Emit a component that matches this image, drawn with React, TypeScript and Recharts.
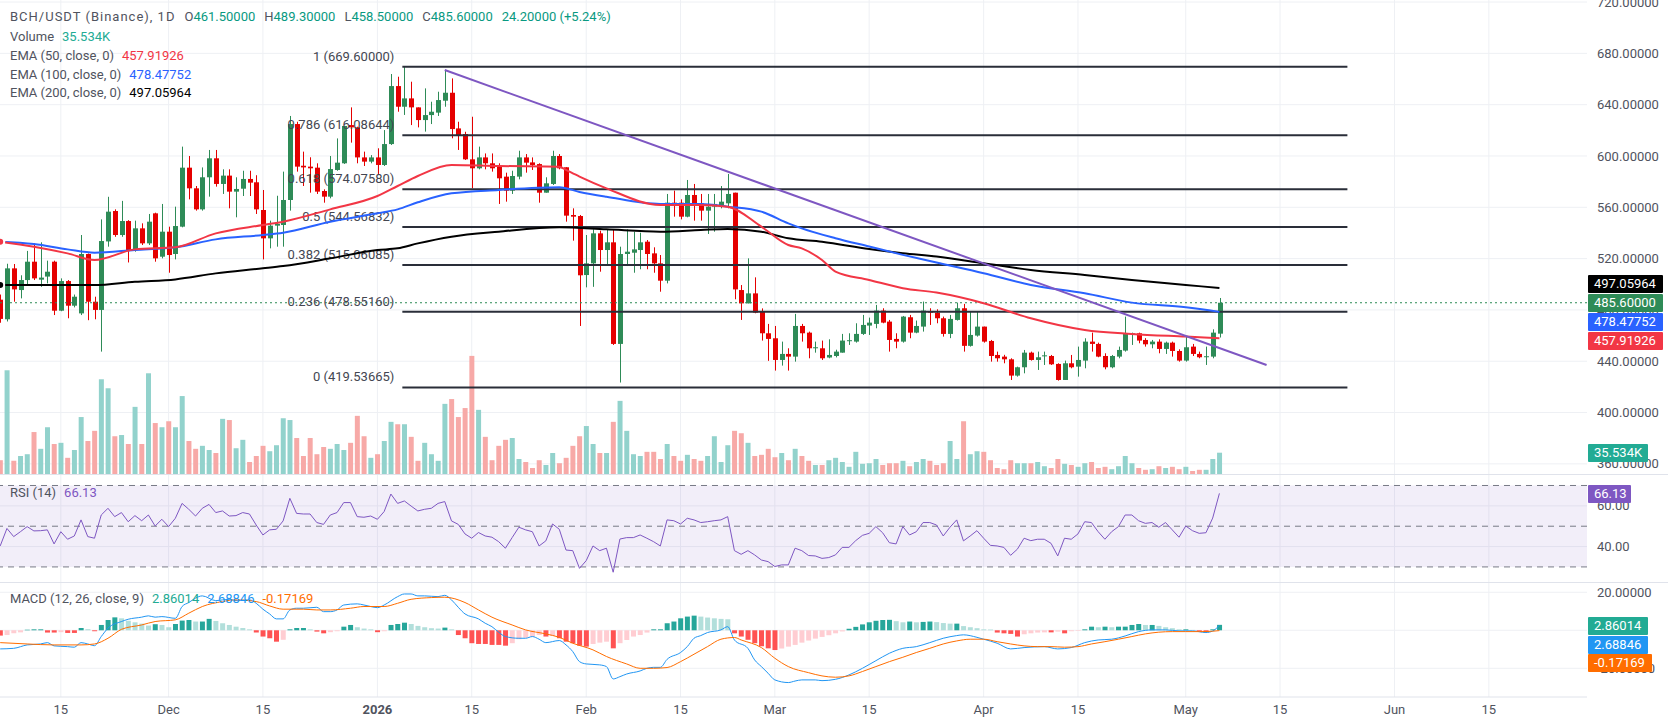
import React from "react";
import {
  ComposedChart,
  Bar,
  Line,
  XAxis,
  YAxis,
  CartesianGrid,
  ReferenceLine,
  ReferenceArea,
  Cell,
} from "recharts";

// candle 0 = 6 Nov 2025, day numbers are counted from 1 Jan 2026
const FIRST_DAY = -56;
const X_DOMAIN: [number, number] = [-56.03, 179.57];

const opens = [
  488, 472.7, 512.4, 495.5, 503.3, 517.6, 503.6, 506, 517.6, 479.4,
  502.5, 483.3, 477.3, 523.6, 486.4, 480, 533.4, 557.1, 538.4, 549.3,
  526.7, 543.6, 531.9, 555.3, 521.5, 541, 523.6, 544.9, 590.9, 574.8,
  558.4, 583.4, 598.2, 578.2, 584.7, 572.2, 574.5, 582.1, 579.5, 557.9,
  535.8, 545.7, 546.2, 565.7, 624.9, 592.4, 591.7, 590.9, 572.7, 568.3,
  589.1, 594.3, 624.1, 622.3, 598.9, 595.6, 598.9, 593, 609.3, 654.5,
  638.4, 644.9, 637.9, 628, 631.9, 633.8, 643.1, 649.3, 621.5, 617.1,
  597.4, 590.4, 598.9, 594.3, 591.7, 583.9, 573, 583.9, 598.9, 595,
  593.7, 571.4, 578.2, 600, 591.2, 554, 553.2, 507.2, 516.3, 539.7,
  526.7, 532.7, 453.5, 523.6, 524.6, 526.7, 533.2, 524.1, 516.3, 502.8,
  563.6, 563.6, 552.7, 569.6, 563.1, 557.4, 560.5, 561.8, 563.1, 571.4,
  495.5, 485.1, 492.9, 478.7, 461.8, 457.9, 441, 445.7, 443.6, 467.5,
  462.3, 450.1, 450.1, 442.9, 444.1, 446.7, 455.8, 455.3, 461.3, 467.8,
  469.1, 479.5, 470.9, 457.4, 455.3, 474.3, 462.3, 467, 478.7, 477.9,
  473.5, 461.3, 472.2, 481.3, 452, 460, 467, 455.8, 444.9, 443.6,
  441.5, 428.8, 435.3, 446.7, 441, 444.1, 444.1, 437.9, 425.4, 438.4,
  435.8, 440.5, 455.3, 453.5, 444.1, 435.3, 443.6, 448.3, 461.3, 461.8,
  456.6, 453.2, 455.3, 449.6, 454.5, 448, 440.5, 451.4, 445.7, 443.4,
  443.6, 461.5,
];

const highs = [
  492, 516, 515.8, 507, 526, 531.9, 532.7, 518.4, 518.4, 504.6,
  503.3, 492, 538.4, 524, 490.3, 550.6, 568.2, 558.4, 565, 550,
  549.6, 547.5, 554.8, 555.8, 562.6, 544.9, 560.5, 607.3, 600, 576.6,
  591.1, 604.7, 604.7, 589.6, 589.6, 583.4, 588.5, 588.5, 585, 573.5,
  549.6, 569, 587.8, 631.2, 626.7, 603.4, 599, 594.3, 574, 600,
  613.7, 623.4, 637.9, 622.8, 603.4, 600.7, 606, 620.2, 663.9, 661.8,
  669.6, 657.9, 637.9, 652.7, 642.3, 650.1, 667, 660.5, 626.7, 618.9,
  630.6, 607.3, 602, 602, 594.3, 587, 588.5, 604.1, 601.5, 598.9,
  594.3, 583.4, 604.1, 601.5, 591.2, 559.2, 554, 538.4, 542.8, 541.8,
  542.3, 542.3, 529.3, 542.8, 541, 540.2, 534.5, 528.8, 522.8, 570.4,
  573, 566.2, 581.3, 578.2, 570.4, 570.4, 570.4, 576.6, 586, 571.4,
  499.4, 520.2, 505.4, 481.2, 469.1, 467.5, 455.3, 450.1, 476.9, 469.1,
  463.1, 455.3, 456.1, 457.1, 449, 461.3, 461.8, 469.6, 476.1, 474,
  483.9, 481.3, 472.2, 461.8, 475.3, 476.1, 471.7, 486.5, 481.3, 480.5,
  474.8, 476.1, 485.7, 484.7, 478.7, 478.7, 467, 456.6, 447.5, 445,
  442.3, 435.8, 448.8, 447.5, 447.5, 447.5, 444.9, 438.4, 440.5, 444.9,
  451.4, 457.9, 462.3, 454.5, 446.2, 444.9, 451.4, 474.8, 462.3, 462.3,
  458, 456.6, 457.1, 455.3, 455.3, 449.3, 459.2, 453.5, 447.5, 451.4,
  464.9, 489.3,
];

const lows = [
  470, 471, 486.4, 489, 499, 503.3, 498, 500.7, 476, 479,
  473.5, 482, 476, 472, 472.7, 447.5, 529.3, 537, 537, 517,
  525.4, 530.6, 530.6, 517.6, 520.2, 509, 519.4, 544.4, 566.2, 557.4,
  557.4, 568.3, 576.1, 570.4, 559.2, 552.2, 568.8, 568.8, 554.8, 519.4,
  528, 529.3, 529.3, 557.4, 587.8, 576.6, 571.4, 570.4, 563.6, 567,
  588.5, 593.8, 610.4, 594.3, 592.2, 594.3, 586, 592.2, 608.6, 634.5,
  632, 624.1, 622.3, 619, 624.9, 631.2, 638.4, 613.8, 604.7, 596.9,
  574.8, 589.6, 589.6, 587.8, 562.6, 564.4, 570.4, 581.8, 587, 589.1,
  563.6, 571.4, 577.4, 589.6, 548.8, 534, 467.5, 497.6, 498, 509.8,
  515, 452.7, 423.4, 514.2, 509, 511.7, 511.7, 509, 494.2, 500.7,
  552.7, 550.6, 552.2, 549.6, 549.6, 539.2, 541, 559.2, 559.2, 488.3,
  472.2, 485.1, 477.4, 456.1, 440.3, 432.7, 436.6, 432.7, 439.7, 455.3,
  442.3, 446.7, 441, 442.3, 443, 446.7, 452.7, 454.5, 460.5, 460.5,
  465.7, 469.6, 447.5, 450.1, 454.5, 457.9, 461.8, 463.1, 468.3, 469.6,
  459.2, 458, 471.7, 447.5, 451.4, 459.2, 454.5, 439.7, 439.7, 438.4,
  425.4, 428, 430.6, 440.5, 433.2, 437.1, 437.1, 424.9, 425.4, 434.5,
  428, 434.5, 447.5, 443.1, 433.7, 434.5, 442.3, 447.5, 452.7, 454,
  451.4, 450.1, 446.2, 445.7, 443.6, 439.7, 439.7, 444.1, 442.3, 437.1,
  442.3, 458.5,
];

const closes = [
  473, 512.4, 496, 503.3, 517.6, 504.6, 505.2, 509.8, 479.4, 502.5,
  483.3, 490.3, 523.6, 486.4, 480, 533.7, 556.6, 538.4, 549.3, 526.7,
  543.6, 531.9, 548.8, 520.2, 541, 522.8, 545.4, 590.9, 574.8, 558.4,
  583.4, 598.2, 578.2, 584.7, 572.2, 574.3, 582.1, 579.2, 558.4, 535.8,
  545.7, 547, 565.7, 624.9, 591.7, 591.1, 590.4, 572.2, 568.3, 589.8,
  594.8, 623.4, 622.3, 598.9, 595.6, 598.9, 593, 609.3, 654.5, 638.4,
  644.9, 637.9, 628, 631.9, 634.5, 643.6, 649.3, 621, 616.3, 597.4,
  590.4, 598.9, 594.3, 590.4, 582.6, 573, 584.4, 598.9, 594.8, 593,
  571.4, 578.7, 600, 590.4, 553.5, 552.7, 507, 516.3, 539.7, 526.7,
  532.7, 453.5, 523.6, 525.4, 527.2, 532.7, 523.6, 516.3, 502.8, 563.6,
  561, 552.7, 569.6, 562.6, 557.4, 560.5, 562.6, 564.4, 570.4, 496,
  485.1, 492.9, 477.9, 461.8, 457.4, 441, 445.7, 443.6, 467.5, 461.8,
  450.1, 450.9, 442.3, 444.9, 447.5, 456.1, 456.4, 461.3, 468.3, 470.1,
  479.5, 470.1, 456.6, 455.3, 474.8, 462.3, 467.5, 479.5, 477.9, 473.5,
  461.3, 473, 481.3, 452, 460.5, 467, 455.3, 444.1, 442.3, 441.5,
  428.8, 435.3, 446.7, 441, 443.1, 444.6, 437.6, 425.4, 438.4, 435.3,
  441, 455.3, 453.5, 443.6, 435.3, 444.1, 448.8, 461.3, 461.8, 456.1,
  453.2, 455.3, 449.6, 454.5, 448, 440.5, 450.9, 445.7, 443.1, 443.9,
  462.3, 485.6,
];

// volume in thousands
const volumes = [
  23, 173, 22, 30, 33, 70, 42, 78, 50, 52,
  27, 40, 95, 55, 72, 158, 143, 63, 65, 50,
  112, 50, 168, 85, 78, 88, 78, 130, 55, 42,
  47, 40, 35, 92, 90, 43, 57, 20, 30, 47,
  38, 48, 93, 90, 60, 30, 60, 33, 45, 42,
  50, 40, 52, 97, 63, 27, 33, 55, 87, 83,
  83, 62, 22, 52, 33, 22, 117, 125, 95, 110,
  197, 107, 62, 23, 47, 57, 60, 25, 20, 10,
  23, 15, 35, 18, 27, 47, 63, 80, 50, 35,
  35, 87, 122, 72, 33, 30, 37, 37, 25, 50,
  30, 22, 32, 25, 22, 30, 63, 20, 48, 72,
  68, 52, 30, 32, 42, 28, 35, 23, 42, 30,
  22, 15, 15, 23, 27, 20, 12, 37, 17, 18,
  25, 15, 18, 18, 22, 13, 20, 25, 22, 15,
  18, 55, 25, 88, 33, 38, 37, 23, 10, 8,
  23, 18, 18, 18, 20, 13, 10, 25, 17, 15,
  12, 18, 20, 10, 12, 8, 13, 30, 18, 10,
  7, 8, 13, 10, 12, 8, 12, 5, 7, 7,
  25, 35.534,
];

const rsi = [
  40.3, 48.9, 44.9, 47.3, 49.8, 47.7, 47.8, 48.2, 41.3, 47.3,
  43.6, 45.2, 53.1, 44.9, 44.1, 55.5, 58.8, 54.7, 56.7, 52.2,
  55.2, 52.7, 55.5, 50.1, 53.4, 49.8, 53.9, 61.2, 58.3, 55,
  58.8, 60.7, 56.7, 57.5, 55, 55.2, 56.7, 56, 50.6, 45.7,
  48.2, 48.5, 52.6, 63.7, 56.3, 56, 56, 51.8, 50.9, 55.5,
  56.7, 61.6, 61.6, 54.7, 54.4, 55, 53.4, 57.2, 65.8, 61.2,
  62.4, 59.9, 57.5, 58.3, 58.8, 61.2, 62.1, 52.6, 50.9, 46.2,
  44.1, 46.9, 45.2, 44.6, 42.4, 39.2, 44.4, 49.5, 48.2, 47.3,
  40.3, 42.8, 51.1, 48.5, 38.3, 38, 29.3, 33.1, 40.3, 38,
  39.2, 27.4, 43.7, 44.4, 44.4, 45.7, 44.1, 42.4, 40.3, 53.1,
  52.7, 51.1, 53.9, 53.1, 51.8, 52.2, 52.7, 53.1, 54.7, 38,
  36.2, 38, 35.9, 33.4, 32.6, 30.2, 31, 31, 39.2, 38,
  35.6, 35.4, 34.2, 34.6, 35.9, 39.6, 39.6, 42.9, 45.5, 46.5,
  49.8, 46.8, 41.9, 41.3, 49.8, 45.7, 47.3, 51.8, 51.8, 50.6,
  45.2, 49.5, 53.1, 42.8, 45.2, 47.8, 44.1, 40.6, 40.3, 39.6,
  35.7, 38.7, 44.1, 42.9, 43.6, 43.6, 41.6, 35.4, 44.1, 43.6,
  46.2, 52.2, 51.8, 47.3, 43.6, 47.3, 49.8, 55.5, 55.5, 52.7,
  51.4, 51.8, 49.5, 51.8, 48.2, 44.6, 50.1, 47.8, 46.5, 46.8,
  54, 66.13,
];

const macdHist = [
  -2.8, -2.5, -1.6, -1.1, 0.3, 0.5, 0.5, -1.2, -1.2, -1,
  -1.4, -1.4, 1.2, 0.6, -0.5, 2.8, 5.4, 6.8, 6.3, 5,
  4.2, 3.5, 2.5, 3.2, 2.8, 1.6, 3.3, 5.1, 5.4, 4.6,
  4.6, 6, 4.9, 3.7, 2.8, 1.9, 1.2, 0.5, -1.2, -3.3,
  -4.2, -6, -5, 0.5, 1.2, 1.2, 0.5, -0.7, -1.6, -1,
  -0.5, 1.9, 2.8, 1.6, 0.9, 0.5, -1, -0.5, 2.8, 3.3,
  4, 3.3, 2.3, 1.6, 1.1, 0.9, 1.4, 0.5, -2.5, -4.2,
  -6.8, -7.2, -7.2, -7.7, -7.7, -8.1, -6.8, -4.7, -3.9, -3.3,
  -2.5, -3.3, -3, -4.2, -6, -6.8, -8.1, -8.6, -7.2, -6.5,
  -6, -9.5, -6.8, -5.1, -3.3, -2.5, -1.2, 0.5, 0.5, 3.7,
  4.6, 6.3, 7.2, 7.7, 7.2, 6.7, 6.3, 6, 5.8, -1.6,
  -3.3, -5, -6.8, -8.4, -9.5, -10.4, -9.6, -8.6, -7.7, -6.5,
  -5.4, -4.4, -3.5, -2.6, -1.6, -0.6, 0.8, 1.8, 3.1, 4.2,
  5, 5.4, 5.5, 4.8, 4.2, 4.6, 4.2, 4.4, 4.6, 4.3,
  3.8, 3.5, 3.5, 2.2, 1.6, 1.1, 0.5, 0.4, -1.2, -1.6,
  -1.9, -3.3, -2.1, -1.6, -1.2, -1.1, -1.1, -0.7, -1.6, -0.5,
  -0.3, 0.5, 1.9, 1.6, 1.9, 1.6, 1.9, 1.9, 2.8, 3.3,
  2.8, 2.8, 2.3, 1.6, 1.1, 0.5, 0.5, 0.2, -0.7, -1.1,
  0.5, 2.86014,
];

// smooth lines read at [candle index, value]
const ema50Points: [number, number][] = [
  [0, 533.2], [5, 529.3], [10, 524.1], [14, 518.9], [20, 527.2], [26, 528.8],
  [32, 539.7], [39, 546.2], [42, 548.8], [49, 558.4], [56, 568.8], [59, 576.6],
  [62, 584.4], [67, 593], [74, 592.2], [83, 591.7], [84, 589.1], [86, 583.9],
  [90, 574.8], [98, 561.8], [104, 561.8], [108, 560.5], [113, 544.9], [117, 530.6],
  [119, 528], [122, 518.9], [124, 509.9], [129, 503.4], [134, 496.9], [139, 493.5],
  [146, 485.2], [153, 473.5], [161, 464.4], [168, 461.3], [176, 459.2], [181, 457.92],
];

const ema100Points: [number, number][] = [
  [0, 533.2], [5, 531.4], [10, 527.2], [14, 524.6], [20, 526.7], [26, 528.8],
  [32, 535], [39, 538.4], [42, 540.2], [49, 548.8], [56, 555.3], [59, 558.4],
  [62, 563.9], [67, 570.9], [74, 573.5], [83, 575.6], [86, 572], [90, 568.3],
  [98, 562.6], [104, 562.6], [108, 560.5], [113, 556.6], [117, 547.5], [119, 543.6],
  [124, 535.9], [129, 529.4], [134, 522.9], [139, 516.9], [146, 508.6], [153, 499.5],
  [161, 493], [168, 485.7], [176, 482.1], [181, 478.48],
];

const ema200Points: [number, number][] = [
  [0, 499.4], [14, 499.4], [20, 502], [26, 503.8], [32, 508.5], [39, 512.4],
  [42, 514.2], [49, 520.2], [56, 526.7], [59, 528], [62, 531.9], [67, 537.1],
  [74, 541], [83, 544.4], [90, 542.8], [98, 541], [104, 542.3], [108, 543.1],
  [113, 541], [117, 535.8], [122, 533.2], [129, 527.5], [134, 524.2], [139, 521.6],
  [146, 516.4], [153, 511.2], [161, 507.3], [168, 503.4], [176, 499.5], [181, 497.06],
];

const macdPoints: [number, number][] = [
  [0, -9.8], [2, -9.5], [4, -7.7], [6, -7.2], [7, -6.5], [8, -8.2], [10, -8.6],
  [11, -8.9], [12, -6.5], [13, -7.2], [14, -8.1], [15, -3.3], [16, 1.1], [18, 4.6],
  [19, 5.8], [21, 6.9], [22, 7.6], [23, 6.9], [24, 7.2], [26, 6.3], [27, 12.5],
  [28, 14.6], [29, 16.9], [30, 18.1], [32, 15.6], [33, 16], [34, 16.3], [35, 15.6],
  [37, 16], [38, 14.2], [39, 11.1], [40, 8.6], [41, 6], [42, 6], [43, 10.7],
  [44, 11.6], [45, 11.6], [47, 12.1], [48, 9.8], [49, 9.8], [50, 10.7], [51, 13.3],
  [53, 13.9], [54, 13.3], [55, 12.5], [56, 11.9], [57, 13.3], [59, 17.7], [60, 19.1],
  [61, 19.1], [62, 18.1], [63, 18.1], [65, 17.7], [66, 18.4], [67, 16], [68, 12.1],
  [69, 8.6], [71, 6], [72, 3.7], [73, 1.9], [74, -1], [75, -3.3], [77, -4.2],
  [78, -4.2], [79, -3.3], [80, -4.7], [81, -6.5], [83, -5.4], [84, -7.7], [85, -11.2],
  [86, -16.5], [87, -17.7], [89, -18.2], [90, -19.1], [91, -25.6], [92, -24.4],
  [93, -23], [95, -21.4], [96, -20], [97, -19.5], [98, -19.5], [99, -15.3],
  [101, -11.7], [102, -8.6], [103, -4.2], [104, -2.8], [105, -1.2], [107, 0.2],
  [108, 1.9], [109, -5.1], [111, -9.5], [112, -15.6], [113, -19.1], [114, -22.6],
  [115, -26.1], [117, -27.5], [118, -26.7], [119, -26.1], [121, -26.1], [122, -26.5],
  [124, -25.8], [126, -23.5], [128, -20], [130, -16], [132, -12.1], [134, -9.5],
  [136, -8.6], [138, -6.5], [140, -4.2], [142, -2.8], [143, -2.4], [145, -3.7],
  [146, -4.7], [148, -6.8], [150, -9.8], [152, -9.1], [155, -8.6], [157, -9.8],
  [159, -9.1], [161, -6.5], [163, -5.1], [165, -4.7], [167, -3], [169, -0.7],
  [171, 0.2], [173, 0.2], [175, -0.3], [177, -0.3], [179, -1.2], [180, -0.4],
  [181, 2.68846],
];

const signalPoints: [number, number][] = [
  [0, -6.5], [4, -7.2], [8, -7.7], [12, -7.7], [14, -7.2], [16, -4.2], [18, 0.5],
  [21, 2.8], [23, 4.6], [26, 5.5], [28, 9], [30, 12.5], [33, 15.1], [35, 16],
  [38, 15.1], [40, 12.8], [42, 11.1], [45, 11.1], [47, 10.7], [49, 10.7], [52, 11.6],
  [54, 12.5], [57, 12.5], [59, 14.2], [61, 16.3], [64, 17.2], [66, 17.4], [69, 14.6],
  [71, 10.7], [73, 6.9], [76, 2.8], [78, 0.2], [81, -1.9], [83, -3.7], [85, -6.8],
  [88, -10.3], [90, -13.8], [93, -17.7], [95, -20], [97, -20], [99, -19.6],
  [101, -16.5], [103, -12.6], [105, -8.6], [107, -4.7], [109, -3.8], [110, -5.1],
  [113, -9.1], [115, -14.7], [117, -19.1], [120, -22.3], [122, -24], [124, -24.7],
  [126, -24], [128, -21.7], [130, -19.1], [132, -16.5], [134, -14.2], [136, -11.7],
  [138, -9.5], [140, -7.2], [142, -5.6], [144, -4.7], [146, -4.7], [148, -6],
  [150, -7.2], [152, -8.2], [154, -8.6], [156, -8.6], [158, -8.9], [160, -8.6],
  [162, -7.2], [164, -6], [166, -4.7], [168, -3.3], [170, -1.9], [172, -1],
  [174, -0.7], [176, -0.7], [178, -0.7], [180, -0.5], [181, -0.17169],
];

const fibRatios = ["1", "0.786", "0.618", "0.5", "0.382", "0.236", "0"];
const fibPrices = [669.6, 616.08644, 574.0758, 544.56832, 515.06085, 478.5516, 419.53665];
const fibStartDay = 3.7;
const fibEndDay = 144;

// trend line anchors: [day, price]
const trendStart = { day: 10, price: 667 };
const trendEnd = { day: 132, price: 437.1 };

const lastPrice = 485.6;

const priceTicks = [720, 680, 640, 600, 560, 520, 480, 440, 400, 360];
const rsiTicks = [60, 40];
const macdTicks = [20, -20];
const dateTicks = [-47, -31, -17, 0, 14, 31, 45, 59, 73, 90, 104, 120, 134, 151, 165];
const dateLabels = ["15", "Dec", "15", "2026", "15", "Feb", "15", "Mar", "15", "Apr", "15", "May", "15", "Jun", "15"];

const UP = "#2e8b57";
const DOWN = "#e50000";
const VOL_UP = "#92d2cc";
const VOL_DOWN = "#f7a9a7";
const TEXT = "#50535e";
const GRID = "#eef0f4";
const FONT = "Roboto, 'Noto Sans', sans-serif";

const W = 1668;
const AXIS_W = 81;

const m50 = new Map(ema50Points);
const m100 = new Map(ema100Points);
const m200 = new Map(ema200Points);
const mMacd = new Map(macdPoints);
const mSignal = new Map(signalPoints);

const rows = opens.map((o, i) => ({
  d: FIRST_DAY + i,
  o,
  h: highs[i],
  l: lows[i],
  c: closes[i],
  hl: [lows[i], highs[i]],
  vol: volumes[i],
  ema50: m50.get(i) ?? null,
  ema100: m100.get(i) ?? null,
  ema200: m200.get(i) ?? null,
  rsi: rsi[i],
  hist: macdHist[i],
  macd: mMacd.get(i) ?? null,
  signal: mSignal.get(i) ?? null,
}));

const histColor = (i: number) => {
  const v = macdHist[i];
  const p = i > 0 ? macdHist[i - 1] : v;
  if (v >= 0) return v >= p ? "#26a69a" : "#b2dfdb";
  return v <= p ? "#ff5252" : "#ffcdd2";
};

const Candle = (props: any) => {
  const { x, y, width, height, payload } = props;
  if (!payload || x == null || y == null) return null;
  const { o, h, l, c } = payload;
  const top = height >= 0 ? y : y + height;
  const span = Math.abs(height);
  const at = (v: number) => (h === l ? top : top + ((h - v) / (h - l)) * span);
  const px = Math.round(x + width / 2);
  const color = c >= o ? UP : DOWN;
  const yo = at(o);
  const yc = at(c);
  return (
    <g>
      <line x1={px + 0.5} x2={px + 0.5} y1={top} y2={top + span} stroke={color} strokeWidth={1} />
      <rect x={px - 2} y={Math.min(yo, yc)} width={5} height={Math.max(1, Math.abs(yo - yc))} fill={color} />
    </g>
  );
};

const FibLabel = (text: string) => (props: any) => {
  const vb = props.viewBox || {};
  return (
    <text x={vb.x - 8} y={vb.y - 6} textAnchor="end" fontSize={13} fill="#434651">
      {text}
    </text>
  );
};

const DateTick = (props: any) => {
  const { x, y, payload } = props;
  const idx = dateTicks.indexOf(payload.value);
  const label = dateLabels[idx] ?? "";
  return (
    <text x={x} y={y} dy="0.71em" textAnchor="middle" fontSize={13} fill={TEXT} fontWeight={label === "2026" ? 700 : 400}>
      {label}
    </text>
  );
};

const Badge = ({ top, bg, text, width = 75 }: { top: number; bg: string; text: string; width?: number }) => (
  <div
    style={{
      position: "absolute",
      left: 1588,
      top,
      width,
      height: 18,
      background: bg,
      color: "#fff",
      fontSize: 13,
      lineHeight: "18px",
      paddingLeft: 6,
      boxSizing: "border-box",
      borderRadius: 1,
    }}
  >
    {text}
  </div>
);

const Seg = ({ children, color, gap = 0, spacing = 0 }: { children: React.ReactNode; color: string; gap?: number; spacing?: number }) => (
  <span style={{ color, marginLeft: gap, letterSpacing: spacing }}>{children}</span>
);

const Row = ({ top, left = 10, children }: { top: number; left?: number; children: React.ReactNode }) => (
  <div style={{ position: "absolute", left, top, fontSize: 13, lineHeight: "18px", whiteSpace: "nowrap" }}>
    {children}
  </div>
);

export default function App() {
  const valGreen = "#089981";
  return (
    <div
      style={{
        position: "absolute",
        left: 0,
        top: 0,
        width: W,
        height: 726,
        background: "#fff",
        overflow: "hidden",
        fontFamily: FONT,
      }}
    >
      {/* price pane */}
      <div style={{ position: "absolute", left: 0, top: 0 }}>
        <ComposedChart width={W} height={474} data={rows} margin={{ top: 0, right: 0, bottom: 0, left: 0 }}>
          <CartesianGrid stroke={GRID} horizontalValues={priceTicks} verticalValues={dateTicks} />
          <XAxis type="number" dataKey="d" domain={X_DOMAIN} allowDataOverflow hide />
          <XAxis xAxisId="v" type="number" dataKey="d" domain={X_DOMAIN} allowDataOverflow hide />
          <YAxis
            orientation="right"
            width={AXIS_W}
            domain={[352.1, 721.6]}
            allowDataOverflow
            ticks={priceTicks}
            interval={0}
            tickLine={false}
            axisLine={false}
            tickMargin={4}
            tick={{ fill: TEXT, fontSize: 13 }}
            tickFormatter={(v: number) => v.toFixed(5)}
          />
          <YAxis yAxisId="v" domain={[0, 790.6]} allowDataOverflow hide />
          <Bar xAxisId="v" yAxisId="v" dataKey="vol" barSize={5} isAnimationActive={false}>
            {rows.map((r, i) => (
              <Cell key={i} fill={r.c >= r.o ? VOL_UP : VOL_DOWN} />
            ))}
          </Bar>
          <ReferenceLine y={lastPrice} stroke={UP} strokeDasharray="2 3" strokeWidth={1} />
          {fibPrices.map((p, i) => (
            <ReferenceLine
              key={i}
              segment={[
                { x: fibStartDay, y: p },
                { x: fibEndDay, y: p },
              ]}
              stroke="#2a2e39"
              strokeWidth={2}
              label={FibLabel(`${fibRatios[i]} (${p.toFixed(5)})`)}
            />
          ))}
          <Bar dataKey="hl" barSize={5} isAnimationActive={false} shape={Candle} />
          <Line dataKey="ema200" type="monotone" stroke="#000000" strokeWidth={2} dot={false} connectNulls isAnimationActive={false} />
          <Line dataKey="ema100" type="monotone" stroke="#2962ff" strokeWidth={2} dot={false} connectNulls isAnimationActive={false} />
          <Line dataKey="ema50" type="monotone" stroke="#f23645" strokeWidth={2} dot={false} connectNulls isAnimationActive={false} />
          <ReferenceLine
            segment={[
              { x: trendStart.day, y: trendStart.price },
              { x: trendEnd.day, y: trendEnd.price },
            ]}
            stroke="#7e57c2"
            strokeWidth={2}
          />
        </ComposedChart>
      </div>

      {/* RSI pane */}
      <div style={{ position: "absolute", left: 0, top: 475 }}>
        <ComposedChart width={W} height={107} data={rows} margin={{ top: 0, right: 0, bottom: 0, left: 0 }}>
          <CartesianGrid stroke={GRID} horizontalValues={rsiTicks} verticalValues={dateTicks} />
          <XAxis type="number" dataKey="d" domain={X_DOMAIN} allowDataOverflow hide />
          <YAxis
            orientation="right"
            width={AXIS_W}
            domain={[22.6, 75.15]}
            allowDataOverflow
            ticks={rsiTicks}
            interval={0}
            tickLine={false}
            axisLine={false}
            tickMargin={4}
            tick={{ fill: TEXT, fontSize: 13 }}
            tickFormatter={(v: number) => v.toFixed(2)}
          />
          <ReferenceArea y1={30} y2={70} fill="#7e57c2" fillOpacity={0.1} stroke="none" />
          <ReferenceLine y={70} stroke="#787b86" strokeDasharray="6 5" />
          <ReferenceLine y={50} stroke="#787b86" strokeDasharray="6 5" />
          <ReferenceLine y={30} stroke="#787b86" strokeDasharray="6 5" />
          <Line dataKey="rsi" type="linear" stroke="#7e57c2" strokeWidth={1} dot={false} isAnimationActive={false} />
        </ComposedChart>
      </div>

      {/* MACD pane */}
      <div style={{ position: "absolute", left: 0, top: 582 }}>
        <ComposedChart width={W} height={144} data={rows} margin={{ top: 0, right: 0, bottom: 0, left: 0 }}>
          <CartesianGrid stroke={GRID} horizontalValues={[20, 0, -20]} verticalValues={dateTicks} />
          <XAxis
            type="number"
            dataKey="d"
            domain={X_DOMAIN}
            allowDataOverflow
            ticks={dateTicks}
            interval={0}
            height={29}
            tickLine={false}
            axisLine={{ stroke: "#e0e3eb" }}
            tick={DateTick}
          />
          <YAxis
            orientation="right"
            width={AXIS_W}
            domain={[-35.1, 25.4]}
            allowDataOverflow
            ticks={macdTicks}
            interval={0}
            tickLine={false}
            axisLine={false}
            tickMargin={4}
            tick={{ fill: TEXT, fontSize: 13 }}
            tickFormatter={(v: number) => v.toFixed(5)}
          />
          <Bar dataKey="hist" barSize={5} isAnimationActive={false}>
            {rows.map((_, i) => (
              <Cell key={i} fill={histColor(i)} />
            ))}
          </Bar>
          <Line dataKey="macd" type="monotone" stroke="#2196f3" strokeWidth={1} dot={false} connectNulls isAnimationActive={false} />
          <Line dataKey="signal" type="monotone" stroke="#ff6d00" strokeWidth={1} dot={false} connectNulls isAnimationActive={false} />
        </ComposedChart>
      </div>

      {/* pane separators */}
      <div style={{ position: "absolute", left: 0, top: 474, width: W, height: 1, background: "#e0e3eb" }} />
      <div style={{ position: "absolute", left: 0, top: 582, width: W, height: 1, background: "#e0e3eb" }} />

      {/* legends */}
      <Row top={8}>
        <Seg color={TEXT} spacing={1}>BCH/USDT (Binance), 1D</Seg>
        <Seg color={TEXT} gap={9}>O</Seg>
        <Seg color={valGreen}>461.50000</Seg>
        <Seg color={TEXT} gap={9}>H</Seg>
        <Seg color={valGreen}>489.30000</Seg>
        <Seg color={TEXT} gap={9}>L</Seg>
        <Seg color={valGreen}>458.50000</Seg>
        <Seg color={TEXT} gap={9}>C</Seg>
        <Seg color={valGreen}>485.60000</Seg>
        <Seg color={valGreen} gap={9}>24.20000 (+5.24%)</Seg>
      </Row>
      <Row top={28}>
        <Seg color={TEXT}>Volume</Seg>
        <Seg color="#22ab94" gap={8}>35.534K</Seg>
      </Row>
      <Row top={47}>
        <Seg color={TEXT}>EMA (50, close, 0)</Seg>
        <Seg color="#f23645" gap={8}>457.91926</Seg>
      </Row>
      <Row top={65.5}>
        <Seg color={TEXT}>EMA (100, close, 0)</Seg>
        <Seg color="#2962ff" gap={8}>478.47752</Seg>
      </Row>
      <Row top={84}>
        <Seg color={TEXT}>EMA (200, close, 0)</Seg>
        <Seg color="#000000" gap={8}>497.05964</Seg>
      </Row>
      <Row top={484}>
        <Seg color={TEXT}>RSI (14)</Seg>
        <Seg color="#7e57c2" gap={8}>66.13</Seg>
      </Row>
      <Row top={590}>
        <Seg color={TEXT}>MACD (12, 26, close, 9)</Seg>
        <Seg color="#22ab94" gap={8}>2.86014</Seg>
        <Seg color="#2196f3" gap={8}>2.68846</Seg>
        <Seg color="#ff6d00" gap={8}>-0.17169</Seg>
      </Row>

      {/* last value badges */}
      <Badge top={275} bg="#000000" text="497.05964" />
      <Badge top={294} bg={UP} text="485.60000" />
      <Badge top={313} bg="#2962ff" text="478.47752" />
      <Badge top={332} bg="#f23645" text="457.91926" />
      <Badge top={444} bg="#22ab94" text="35.534K" width={60} />
      <Badge top={485} bg="#7e57c2" text="66.13" width={43} />
      <Badge top={617} bg="#22ab94" text="2.86014" width={60} />
      <Badge top={636} bg="#2196f3" text="2.68846" width={60} />
      <Badge top={654} bg="#ff6d00" text="-0.17169" width={64} />
    </div>
  );
}
